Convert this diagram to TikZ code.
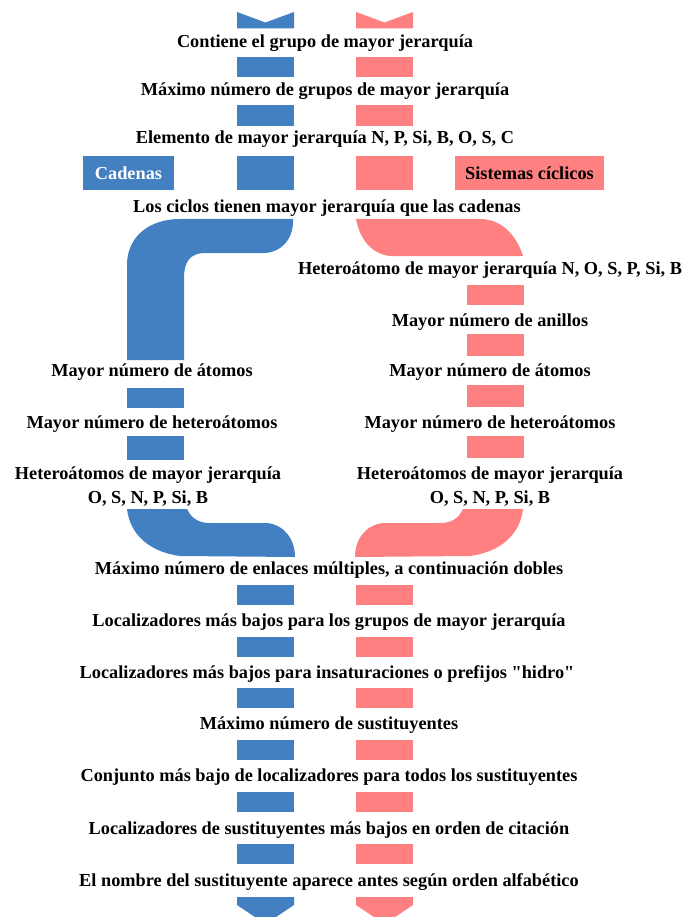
\documentclass[tikz,border=0pt]{standalone}
\usepackage{fontspec}
\setmainfont{Liberation Serif}
\usetikzlibrary{positioning}
\definecolor{cadazul}{RGB}{67,128,193}
\definecolor{cicrojo}{RGB}{255,128,128}

\begin{document}
\begin{tikzpicture}[
    x=1pt, y=-1pt,
    paso/.style={font=\bfseries\fontsize{18.3}{24}\selectfont, align=center, inner sep=0pt},
    azul/.style={fill=cadazul},
    rojo/.style={fill=cicrojo},
    caja/.style={minimum height=34pt, inner sep=0pt, font=\bfseries\fontsize{18.3}{20}\selectfont}
]
\useasboundingbox (0,0) rectangle (685,917);

% Entry chevrons
\fill[azul] (237,12) -- (265.5,22.5) -- (294,12) -- (294,28.5) -- (237,28.5) -- cycle;
\fill[rojo] (356,12) -- (384.5,22.5) -- (413,12) -- (413,28.5) -- (356,28.5) -- cycle;

% Bars of the common part (top)
\foreach \ya/\yb in {57/77, 105/126, 156/190} {
    \fill[azul] (237,\ya) rectangle (294,\yb);
    \fill[rojo] (356,\ya) rectangle (413,\yb);
}

% Labels of the two branches
\node[caja, azul, minimum width=91pt, text=white] (cadenas) at (128.5,173) {Cadenas};
\node[caja, rojo, minimum width=149pt] (ciclicos) at (529.5,173) {Sistemas cíclicos};

% Chains: elbow down to the left column
\fill[azul] (180,219) -- (293,219)
    .. controls (294,238) and (282,252) .. (265,253) -- (205,253)
    .. controls (190,253) and (184,262) .. (184,278) -- (184,360) -- (127,360) -- (127,265)
    .. controls (127,236) and (150,219) .. (180,219) -- cycle;

% Rings: band to the right column
\fill[rojo] (356,219) -- (480,219)
    .. controls (505,219) and (518,240) .. (523,256) -- (390,256)
    .. controls (372,254) and (360,240) .. (356,219) -- cycle;

% Bars of the left column
\foreach \ya/\yb in {388/408, 436/460}
    \fill[azul] (127,\ya) rectangle (184,\yb);

% Bars of the right column
\foreach \ya/\yb in {285/305, 334/356, 385/407, 436/458}
    \fill[rojo] (467,\ya) rectangle (524,\yb);

% Back to the middle
\fill[azul] (127,509) -- (187,509)
    .. controls (192,519) and (199,523) .. (210,523) -- (267,523)
    .. controls (285,525) and (295,540) .. (295,557) -- (180,556)
    .. controls (150,552) and (130,535) .. (127,509) -- cycle;
\begin{scope}[xshift=650pt, xscale=-1]
\fill[rojo] (127,509) -- (187,509)
    .. controls (192,519) and (199,523) .. (210,523) -- (267,523)
    .. controls (285,525) and (295,540) .. (295,557) -- (180,556)
    .. controls (150,552) and (130,535) .. (127,509) -- cycle;
\end{scope}

% Bars of the common part (bottom)
\foreach \ya in {585, 637, 688, 740, 792, 844} {
    \fill[azul] (237,\ya) rectangle (294,\ya+20);
    \fill[rojo] (356,\ya) rectangle (413,\ya+20);
}

% Exit chevrons
\fill[azul] (237,897) -- (294,897) -- (294,905) -- (265.5,924) -- (237,905) -- cycle;
\fill[rojo] (356,897) -- (413,897) -- (413,905) -- (384.5,924) -- (356,905) -- cycle;

% Rules, common part
\node[paso] (r1) at (325,43.5) {Contiene el grupo de mayor jerarquía};
\node[paso] (r2) at (325,91.5) {Máximo número de grupos de mayor jerarquía};
\node[paso] (r3) at (325,139.5) {Elemento de mayor jerarquía N, P, Si, B, O, S, C};
\node[paso] (r4) at (327,208.5) {Los ciclos tienen mayor jerarquía que las cadenas};

% Rules, chains
\node[paso] (c1) at (152,372.5) {Mayor número de átomos};
\node[paso] (c2) at (152,424.5) {Mayor número de heteroátomos};
\node[paso] (c3) at (148,486.5) {Heteroátomos de mayor jerarquía\\O, S, N, P, Si, B};

% Rules, rings
\node[paso] (a1) at (490,270.5) {Heteroátomo de mayor jerarquía N, O, S, P, Si, B};
\node[paso] (a2) at (490,322.5) {Mayor número de anillos};
\node[paso] (a3) at (490,372.5) {Mayor número de átomos};
\node[paso] (a4) at (490,424.5) {Mayor número de heteroátomos};
\node[paso] (a5) at (490,486.5) {Heteroátomos de mayor jerarquía\\O, S, N, P, Si, B};

% Rules, common part again
\node[paso] (r5) at (329,570.5) {Máximo número de enlaces múltiples, a continuación dobles};
\node[paso] (r6) at (329,622.5) {Localizadores más bajos para los grupos de mayor jerarquía};
\node[paso] (r7) at (327,673.5) {Localizadores más bajos para insaturaciones o prefijos \textquotedbl hidro\textquotedbl};
\node[paso] (r8) at (329,725.5) {Máximo número de sustituyentes};
\node[paso] (r9) at (329,777.5) {Conjunto más bajo de localizadores para todos los sustituyentes};
\node[paso] (r10) at (329,830.5) {Localizadores de sustituyentes más bajos en orden de citación};
\node[paso] (r11) at (329,882.5) {El nombre del sustituyente aparece antes según orden alfabético};

\end{tikzpicture}
\end{document}
